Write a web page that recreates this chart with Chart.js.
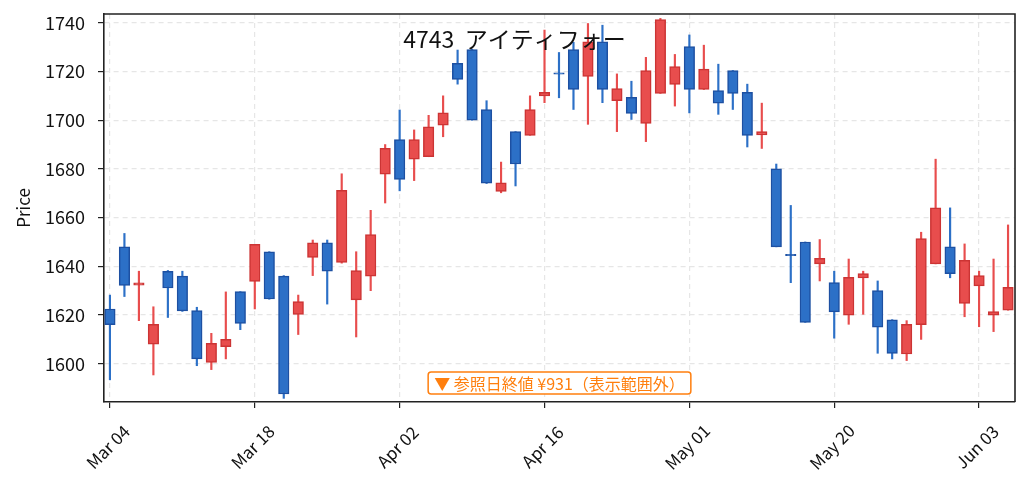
<!DOCTYPE html>
<html>
<head>
<meta charset="utf-8">
<script src="https://cdn.jsdelivr.net/npm/chart.js@4/dist/chart.umd.min.js"></script>
<style>
  html, body { margin: 0; padding: 0; background: #fff; }
  #wrap { width: 1029px; height: 491px; }
</style>
</head>
<body>
<div id="wrap"><canvas id="grafico"></canvas></div>
<script>
// datos OHLC (dias habiles, 04 mar - 05 jun)
const dias = [0,1,2,3,4,5,6,7,8,9,10,11,12,13,14,15,16,17,18,19,20,21,22,23,24,25,26,27,28,29,30,31,32,33,34,35,36,37,38,39,40,41,42,43,44,45,46,47,48,49,50,51,52,53,54,55,56,57,58,59,60,61,62];
const aperturas = [1622.5,1648,1632.3,1608,1638,1636,1621.8,1600.5,1607,1629.6,1633.8,1646,1636,1620.3,1643.7,1649.7,1641.6,1626.2,1636,1677.8,1692,1684,1685,1698,1723.3,1729,1704.4,1670.8,1695.3,1693.8,1710,1719.3,1729,1718,1732.2,1708,1709.4,1698.7,1711,1714.7,1730.2,1712.6,1712.2,1720.4,1711.4,1694,1680,1644.8,1650,1641,1633.3,1620,1635.2,1630,1618,1604,1616,1641,1648,1624.8,1632,1620,1622];
const maximos = [1628.2,1653.5,1638,1623.4,1638.3,1638,1623.2,1612.5,1629.5,1629.6,1649,1646,1636.2,1628.2,1650.8,1650.8,1678,1646,1663,1690,1704.2,1696,1702,1710,1728.8,1729.1,1708,1682.8,1695.3,1710,1737,1727.8,1732,1739.7,1739,1719,1716,1725.8,1741.8,1727,1735,1730.8,1723,1720.4,1714.8,1707,1682,1665,1650,1651,1638,1643,1638,1634,1618.1,1617.7,1654,1684,1664,1649.2,1638,1643,1657];
const minimos = [1593.4,1627.6,1617.7,1595.4,1619,1621.5,1599.2,1597.6,1602,1614,1622.5,1626.5,1585.8,1612,1636.2,1624.5,1641.3,1611,1630,1666,1671,1675.2,1685,1693.2,1714.8,1700,1674,1670.2,1673,1693.8,1707.2,1709.2,1704.4,1698.3,1707.2,1695.3,1700.3,1691.2,1711,1705.8,1703,1712.6,1702.4,1704.4,1689,1688.4,1648,1633.3,1617,1634,1610.5,1616.2,1620.3,1604.3,1602,1601.3,1610,1641,1635.3,1619.3,1615.2,1613.2,1622];
const cierres = [1616,1632.2,1633.2,1616.2,1631.1,1621.7,1602,1608.4,1610,1616.6,1649,1626.6,1587.6,1625.5,1649.7,1638,1671.2,1638.3,1653,1688.4,1675.7,1692,1697.3,1703,1716.7,1700,1674.1,1674.3,1682,1704.4,1711.4,1719,1712.6,1732.2,1712.6,1713,1702.8,1720.4,1741.3,1722,1712.6,1721,1707,1711,1693.8,1695.3,1648,1644.5,1617,1643.3,1621.3,1635.5,1637,1615,1604.2,1616.2,1651.4,1664,1637,1642.5,1636.2,1621.4,1631.4];

const posicionesX = [0,10,20,30,40,50,60];
const etiquetasX = ["Mar 04","Mar 18","Apr 02","Apr 16","May 01","May 20","Jun 03"];
const ticksY = [1600,1620,1640,1660,1680,1700,1720,1740];

const titulo = "4743  アイティフォー";
const nota = "▼ 参照日終値 ¥931（表示範囲外）";
const tituloY = "Price";

const FUENTE = "'Noto Sans CJK JP', 'Noto Sans', sans-serif";
const ROJO = "#e84d4d", ROJO_BORDE = "#cc3434";
const AZUL = "#2c70c7", AZUL_BORDE = "#1d50a2";

const sube = dias.map((d, i) => cierres[i] >= aperturas[i]);

const cuerpos = dias.map((d, i) => {
  let a = Math.min(aperturas[i], cierres[i]);
  let b = Math.max(aperturas[i], cierres[i]);
  if (b - a < 0.6) { const m = (a + b) / 2; a = m - 0.3; b = m + 0.3; }
  return { x: d, y: [a, b] };
});
const mechas = dias.map((d, i) => ({ x: d, y: [minimos[i], maximos[i]] }));

const textos = {
  id: "textos",
  afterDatasetsDraw(chart) {
    const ctx = chart.ctx;
    const area = chart.chartArea;
    const ejeX = chart.scales.x;
    ctx.save();
    // marco superior y derecho
    ctx.strokeStyle = "#222";
    ctx.lineWidth = 1.6;
    ctx.beginPath();
    ctx.moveTo(area.left, area.top);
    ctx.lineTo(area.right, area.top);
    ctx.lineTo(area.right, area.bottom);
    ctx.stroke();

    // etiquetas del eje x (rotadas y centradas)
    ctx.fillStyle = "#111";
    ctx.font = "17px " + FUENTE;
    ctx.textAlign = "center";
    ctx.textBaseline = "middle";
    posicionesX.forEach((v, i) => {
      const px = ejeX.getPixelForValue(v);
      ctx.save();
      ctx.translate(px - 2, area.bottom + 45);
      ctx.rotate(-Math.PI / 4);
      ctx.fillText(etiquetasX[i], 0, 0);
      ctx.restore();
    });

    // titulo del eje y
    ctx.save();
    ctx.font = "17px " + FUENTE;
    ctx.translate(24, (area.top + area.bottom) / 2);
    ctx.rotate(-Math.PI / 2);
    ctx.fillText(tituloY, 0, 0);
    ctx.restore();

    // titulo
    ctx.font = "23px " + FUENTE;
    ctx.textBaseline = "alphabetic";
    ctx.fillText(titulo, chart.width / 2, 48);

    // nota
    ctx.font = "16px " + FUENTE;
    const w = ctx.measureText(nota).width + 12;
    const h = 22;
    const cx = (area.left + area.right) / 2;
    const x0 = cx - w / 2, y0 = area.bottom - 8 - h;
    ctx.beginPath();
    ctx.roundRect(x0, y0, w, h, 3);
    ctx.fillStyle = "#fff";
    ctx.fill();
    ctx.lineWidth = 1.5;
    ctx.strokeStyle = "#ff7f0e";
    ctx.stroke();
    ctx.fillStyle = "#ff7f0e";
    ctx.textBaseline = "middle";
    ctx.fillText(nota, cx, y0 + h / 2 + 1);
    ctx.restore();
  }
};

new Chart(document.getElementById("grafico"), {
  type: "bar",
  data: {
    datasets: [
      {
        label: "cuerpo",
        data: cuerpos,
        backgroundColor: sube.map(s => s ? ROJO : AZUL),
        borderColor: sube.map(s => s ? ROJO_BORDE : AZUL_BORDE),
        borderWidth: 1.5,
        borderSkipped: false,
        barThickness: 10.5,
        grouped: false,
        order: 0
      },
      {
        label: "mecha",
        data: mechas,
        backgroundColor: sube.map(s => s ? ROJO : AZUL),
        borderWidth: 0,
        barThickness: 1.5,
        grouped: false,
        order: 1
      }
    ]
  },
  options: {
    responsive: true,
    maintainAspectRatio: false,
    animation: false,
    layout: { padding: { left: 0, right: 14, top: 14, bottom: 0 } },
    plugins: {
      legend: { display: false },
      tooltip: { enabled: false },
      title: { display: false }
    },
    scales: {
      x: {
        type: "linear",
        offset: false,
        min: -0.41,
        max: 62.48,
        afterBuildTicks: (eje) => { eje.ticks = posicionesX.map(v => ({ value: v })); },
        afterFit: (eje) => { eje.height = 89; eje.paddingLeft = 0; eje.paddingRight = 0; },
        ticks: {
          display: false,
          autoSkip: false
        },
        grid: {
          offset: false,
          color: "#e6e6e6",
          lineWidth: 1.2,
          tickColor: "#222",
          tickLength: 6,
          tickWidth: 1.2,
          tickBorderDash: []
        },
        border: { color: "#222", width: 1.6, dash: [5, 4] }
      },
      y: {
        min: 1584.3,
        max: 1743.6,
        afterBuildTicks: (eje) => { eje.ticks = ticksY.map(v => ({ value: v })); },
        afterFit: (eje) => { eje.width = 104; eje.paddingTop = 0; eje.paddingBottom = 0; },
        ticks: {
          color: "#111",
          font: { family: FUENTE, size: 18 },
          padding: 13,
          callback: (v) => String(v)
        },
        grid: {
          color: "#e6e6e6",
          lineWidth: 1.2,
          tickColor: "#222",
          tickLength: 6,
          tickWidth: 1.2,
          tickBorderDash: []
        },
        border: { color: "#222", width: 1.6, dash: [5, 4] }
      }
    }
  },
  plugins: [textos]
});
</script>
</body>
</html>
